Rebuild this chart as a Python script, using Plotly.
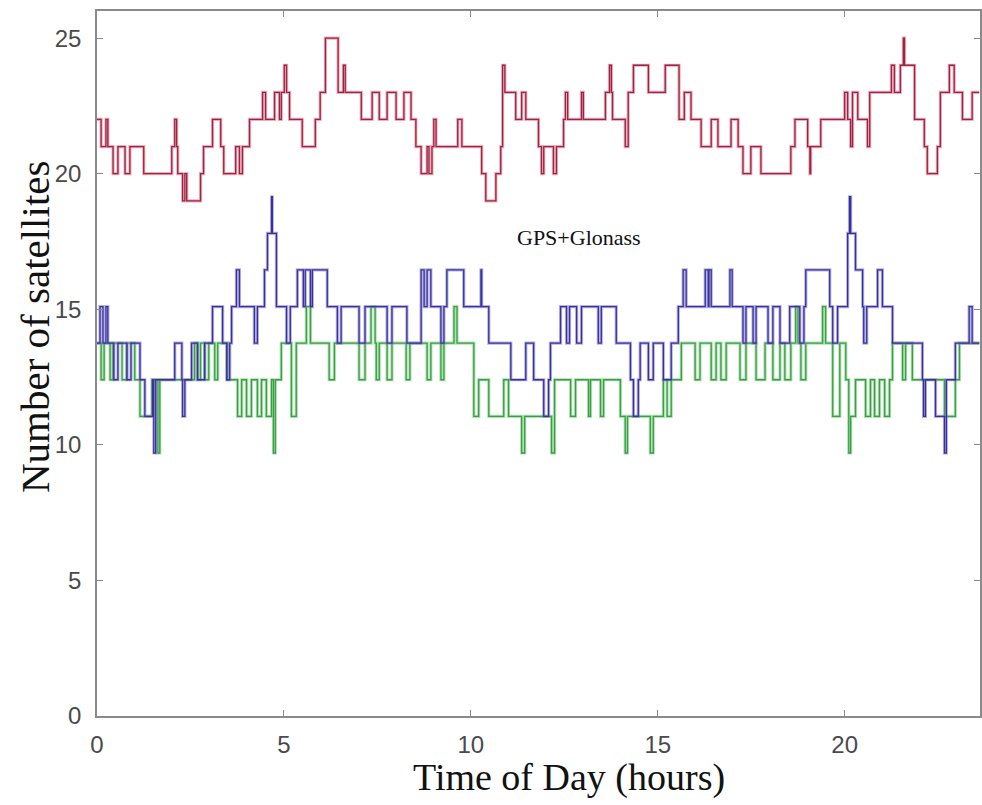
import plotly.graph_objects as go

# ---- data (time in hours, number of satellites) ----
red_t = [0, 0.11, 0.24, 0.29, 0.43, 0.56, 0.75, 0.88, 1.25, 2.00,
         2.08, 2.13, 2.16, 2.29, 2.35, 2.40, 2.77, 2.85, 3.09, 3.31,
         3.39, 3.71, 3.81, 3.89, 4.08, 4.43, 4.51, 4.75, 4.88, 4.93,
         5.01, 5.07, 5.15, 5.49, 5.84, 5.97, 6.11, 6.45, 6.59, 6.64,
         7.07, 7.36, 7.55, 7.76, 8.00, 8.21, 8.40, 8.53, 8.67, 8.83,
         8.88, 8.96, 9.01, 9.07, 9.65, 9.76, 10.29, 10.40, 10.67, 10.80,
         10.85, 10.91, 11.20, 11.36, 11.47, 11.81, 11.89, 11.95, 12.21, 12.29,
         12.48, 12.53, 12.59, 12.96, 13.01, 13.60, 13.71, 13.76, 13.79, 14.13,
         14.21, 14.35, 14.75, 15.20, 15.57, 15.71, 15.89, 16.16, 16.43, 16.61,
         16.96, 17.15, 17.28, 17.49, 17.76, 18.56, 18.67, 19.01, 19.07, 19.09,
         19.36, 20.00, 20.08, 20.16, 20.21, 20.35, 20.61, 20.67, 21.25, 21.33,
         21.49, 21.57, 21.60, 21.87, 22.13, 22.21, 22.48, 22.56, 22.80, 22.93,
         23.15, 23.41, 23.6]
red_n = [22, 21, 22, 21, 20, 21, 20, 21, 20, 21,
         22, 21, 20, 19, 20, 19, 20, 21, 22, 21,
         20, 21, 20, 21, 22, 23, 22, 23, 22, 23,
         24, 23, 22, 21, 22, 23, 25, 23, 24, 23,
         22, 23, 22, 23, 22, 23, 22, 21, 20, 21,
         20, 21, 22, 21, 22, 21, 20, 19, 20, 21,
         24, 23, 22, 23, 22, 21, 20, 21, 20, 21,
         22, 23, 22, 23, 22, 23, 24, 23, 22, 21,
         23, 24, 23, 24, 22, 23, 22, 21, 22, 21,
         22, 21, 20, 21, 20, 21, 22, 21, 20, 21,
         22, 23, 22, 21, 23, 22, 21, 23, 24, 23,
         24, 25, 24, 22, 21, 20, 21, 23, 24, 23,
         22, 23, 23]

blue_t = [0.00, 0.08, 0.16, 0.24, 0.29, 0.45, 0.56, 0.80, 0.91, 1.15,
          1.28, 1.49, 1.52, 1.57, 2.08, 2.27, 2.29, 2.35, 2.53, 2.69,
          2.88, 3.09, 3.36, 3.47, 3.55, 3.60, 3.73, 3.81, 4.21, 4.29,
          4.48, 4.56, 4.67, 4.69, 4.80, 5.07, 5.17, 5.36, 5.52, 5.57,
          5.71, 5.76, 6.16, 6.43, 6.53, 7.01, 7.17, 7.76, 7.89, 8.29,
          8.67, 8.75, 8.83, 8.93, 9.20, 9.28, 9.36, 9.81, 10.27, 10.29,
          10.48, 11.07, 11.47, 11.68, 11.95, 12.08, 12.13, 12.40, 12.56, 12.64,
          12.83, 12.96, 13.41, 13.49, 13.89, 14.27, 14.35, 14.48, 14.53, 14.75,
          14.88, 15.15, 15.36, 15.55, 15.68, 15.76, 16.27, 16.35, 16.37, 16.43,
          16.93, 16.99, 17.28, 17.36, 17.55, 17.63, 17.95, 18.08, 18.27, 18.53,
          18.80, 18.91, 18.96, 19.60, 19.68, 19.81, 20.08, 20.13, 20.16, 20.29,
          20.48, 20.51, 20.59, 20.88, 21.01, 21.28, 22.08, 22.11, 22.16, 22.43,
          22.67, 22.72, 22.96, 23.33, 23.41, 23.6]
blue_n = [13.75, 15.1, 13.75, 15.1, 13.75, 12.4, 13.75, 12.4, 13.75, 12.4,
          11.05, 12.4, 9.7, 12.4, 13.75, 12.4, 11.05, 12.4, 13.75, 12.4,
          13.75, 15.1, 13.75, 12.4, 13.75, 15.1, 16.45, 15.1, 13.75, 15.1,
          16.45, 17.8, 19.15, 17.8, 15.1, 13.75, 15.1, 16.45, 15.1, 16.45,
          15.1, 16.45, 15.1, 13.75, 15.1, 13.75, 15.1, 13.75, 15.1, 13.75,
          16.45, 15.1, 16.45, 15.1, 13.75, 15.1, 16.45, 15.1, 16.45, 15.1,
          13.75, 12.4, 13.75, 12.4, 11.05, 12.4, 13.75, 15.1, 13.75, 15.1,
          13.75, 15.1, 13.75, 15.1, 13.75, 12.4, 11.05, 12.4, 13.75, 12.4,
          13.75, 12.4, 13.75, 15.1, 16.45, 15.1, 16.45, 15.1, 16.45, 15.1,
          16.45, 15.1, 13.75, 15.1, 13.75, 15.1, 13.75, 15.1, 13.75, 15.1,
          13.75, 15.1, 16.45, 15.1, 13.75, 15.1, 17.8, 19.15, 17.8, 16.45,
          15.1, 13.75, 15.1, 16.45, 15.1, 13.75, 12.4, 11.05, 12.4, 11.05,
          9.7, 12.4, 13.75, 15.1, 13.75, 13.75]

green_t = [0.00, 0.11, 0.19, 0.35, 0.43, 0.67, 0.80, 1.01, 1.15, 1.47,
           1.63, 1.68, 2.61, 2.69, 2.77, 2.88, 2.99, 3.15, 3.23, 3.49,
           3.76, 3.87, 4.00, 4.13, 4.29, 4.40, 4.53, 4.67, 4.72, 4.77,
           4.93, 5.20, 5.33, 5.60, 5.71, 6.21, 6.35, 7.01, 7.17, 7.33,
           7.44, 7.47, 7.55, 7.76, 7.89, 8.27, 8.37, 8.83, 8.93, 9.20,
           9.28, 9.55, 9.63, 10.08, 10.21, 10.48, 10.88, 11.01, 11.36, 11.44,
           12.16, 12.24, 12.67, 12.80, 13.15, 13.20, 13.47, 13.55, 14.00, 14.13,
           14.19, 14.80, 14.88, 15.15, 15.25, 15.36, 15.63, 16.00, 16.13, 16.43,
           16.56, 16.69, 16.83, 17.20, 17.36, 17.63, 17.87, 18.08, 18.27, 18.40,
           18.56, 18.69, 18.75, 18.83, 18.96, 19.41, 19.49, 19.68, 19.87, 20.03,
           20.11, 20.16, 20.29, 20.56, 20.69, 20.80, 20.93, 21.07, 21.20, 21.28,
           21.55, 21.63, 21.81, 22.67, 22.96, 23.07, 23.6]
green_n = [13.75, 12.4, 13.75, 12.4, 13.75, 12.4, 13.75, 12.4, 11.05, 12.4,
           9.7, 12.4, 13.75, 12.4, 13.75, 12.4, 13.75, 12.4, 13.75, 12.4,
           11.05, 12.4, 11.05, 12.4, 11.05, 12.4, 11.05, 12.4, 9.7, 12.4,
           13.75, 11.05, 13.75, 15.1, 13.75, 12.4, 13.75, 12.4, 13.75, 15.1,
           13.75, 12.4, 13.75, 12.4, 13.75, 12.4, 13.75, 12.4, 13.75, 12.4,
           13.75, 15.1, 13.75, 11.05, 12.4, 11.05, 12.4, 11.05, 9.7, 11.05,
           9.7, 12.4, 11.05, 12.4, 11.05, 12.4, 11.05, 12.4, 11.05, 9.7,
           11.05, 9.7, 11.05, 12.4, 11.05, 12.4, 13.75, 12.4, 13.75, 12.4,
           13.75, 12.4, 13.75, 12.4, 13.75, 12.4, 13.75, 12.4, 13.75, 12.4,
           13.75, 15.1, 13.75, 12.4, 13.75, 15.1, 13.75, 11.05, 13.75, 12.4,
           9.7, 11.05, 12.4, 11.05, 12.4, 11.05, 12.4, 11.05, 12.4, 13.75,
           12.4, 13.75, 12.4, 11.05, 12.4, 13.75, 13.75]

x_ticks = [0, 5, 10, 15, 20]
y_ticks = [0, 5, 10, 15, 20, 25]
annotation_text = "GPS+Glonass"
x_title = "Time of Day (hours)"
y_title = "Number of satellites"

SERIF = "Liberation Serif, Times New Roman, serif"
SANS = "Liberation Sans, Arial, sans-serif"

fig = go.Figure()

def add_series(t, n, halo, core):
    fig.add_trace(go.Scatter(x=t, y=n, mode="lines", line=dict(color=halo, width=3.2, shape="hv"),
                             hoverinfo="skip", showlegend=False))
    fig.add_trace(go.Scatter(x=t, y=n, mode="lines", line=dict(color=core, width=1.3, shape="hv"),
                             showlegend=False))

add_series(green_t, green_n, "rgba(110,200,115,0.55)", "#3a9e45")
add_series(blue_t, blue_n, "rgba(120,115,205,0.55)", "#3b309a")
add_series(red_t, red_n, "rgba(225,120,145,0.6)", "#9b2343")

fig.add_annotation(x=12.9, y=17.65, text=annotation_text, showarrow=False,
                   font=dict(family=SERIF, size=22, color="#111"))
fig.add_annotation(xref="paper", yref="paper", x=0.534, y=-0.087, text=x_title,
                   showarrow=False, xanchor="center", yanchor="middle",
                   font=dict(family=SERIF, size=38, color="#111"))
fig.add_annotation(xref="paper", yref="paper", x=-0.070, y=0.552, text=y_title,
                   showarrow=False, xanchor="center", yanchor="middle", textangle=-90,
                   font=dict(family=SERIF, size=41, color="#111"))

axis_common = dict(showline=True, linecolor="#8a8a8a", linewidth=1.5, mirror="ticks",
                   ticks="inside", ticklen=6, tickcolor="#8a8a8a", tickwidth=1,
                   showgrid=False, zeroline=False,
                   tickfont=dict(family=SANS, size=24, color="#4a4a4a"))

fig.update_xaxes(range=[0, 23.62], tickvals=x_ticks, ticklabelstandoff=6, **axis_common)
fig.update_yaxes(range=[0, 26], tickvals=y_ticks, ticklabelstandoff=9, **axis_common)

fig.update_layout(width=982, height=805, autosize=False,
                  margin=dict(l=97, r=0, t=11, b=89),
                  plot_bgcolor="white", paper_bgcolor="white")

fig.write_html("out.html")
